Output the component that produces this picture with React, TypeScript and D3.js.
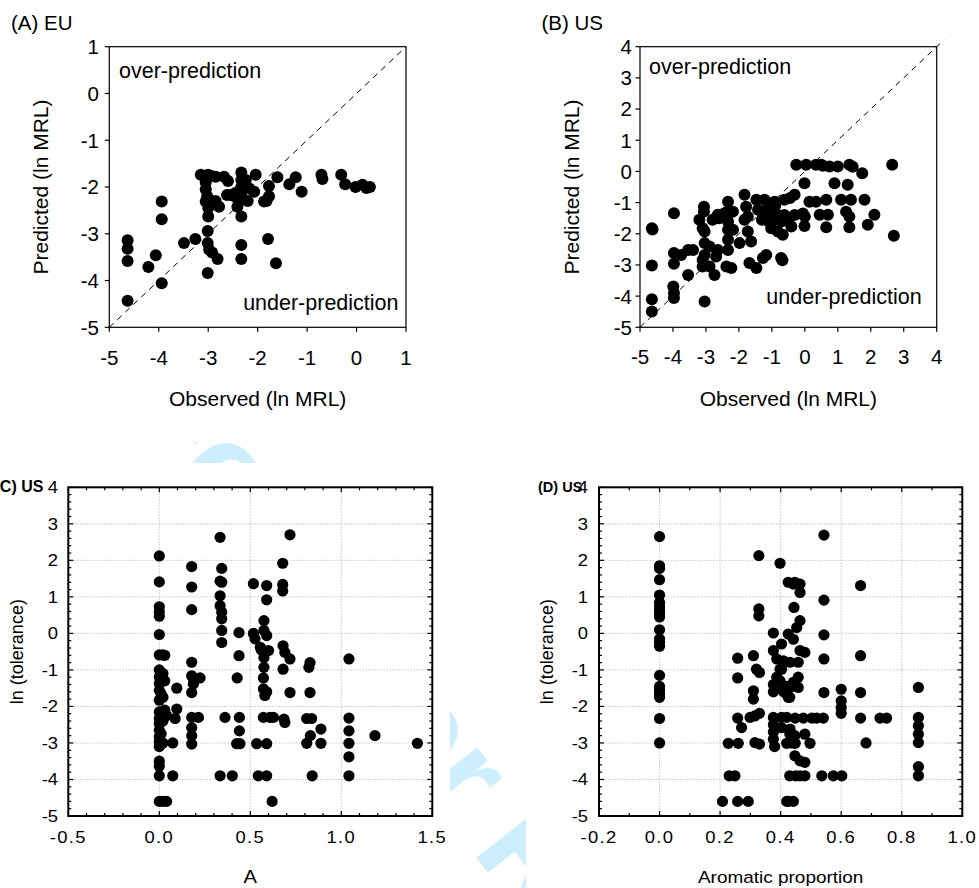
import React from "react";
import * as d3 from "d3";

const FONT = "'Liberation Sans', Arial, Helvetica, sans-serif";
type Pt = [number, number];

// ---------------- Data ----------------
// (A) EU: [observed ln MRL, predicted ln MRL]
const euPoints: Pt[] = [
  [-4.63, -4.43], [-4.63, -3.14], [-4.63, -3.32], [-4.63, -3.58],
  [-4.21, -3.71], [-4.06, -3.46], [-3.94, -2.31], [-3.94, -2.69], [-3.94, -4.06],
  [-3.49, -3.2], [-3.26, -3.11],
  [-3.01, -2.94], [-3.01, -3.2], [-2.98, -3.34], [-2.92, -3.4], [-2.81, -3.54], [-3.01, -3.84],
  [-2.33, -3.24], [-2.33, -3.54], [-1.79, -3.11], [-1.63, -3.63],
  [-3.15, -1.74], [-3.0, -1.74], [-2.95, -1.76], [-2.85, -1.78], [-2.68, -1.78], [-2.6, -1.87],
  [-3.05, -1.9], [-3.05, -2.05], [-3.02, -2.2], [-3.05, -2.31], [-3.0, -2.45], [-3.0, -2.63], [-2.95, -2.3],
  [-2.85, -2.3], [-2.78, -2.42], [-2.62, -2.17], [-2.54, -2.17], [-2.47, -2.2],
  [-2.45, -2.13], [-2.41, -2.42], [-2.38, -2.3],
  [-2.33, -1.69], [-2.33, -1.85], [-2.33, -2.0], [-2.33, -2.2], [-2.33, -2.63],
  [-2.24, -1.85], [-2.17, -2.03], [-2.07, -2.1], [-2.04, -1.74], [-2.2, -2.3],
  [-1.87, -2.31], [-1.77, -2.2], [-1.77, -1.98], [-1.82, -2.3],
  [-1.6, -1.79], [-1.36, -1.94], [-1.23, -1.79], [-1.11, -2.1],
  [-0.71, -1.74], [-0.69, -1.83], [-0.31, -1.74], [-0.23, -1.94], [-0.02, -2.0], [0.12, -1.95], [0.27, -2.0], [0.2, -2.02],
];

// (B) US: [observed ln MRL, predicted ln MRL]
const usPoints: Pt[] = [
  [-4.64, -4.49], [-4.64, -4.1], [-4.64, -3.02], [-4.64, -1.82], [-4.62, -1.86],
  [-3.97, -1.34], [-3.97, -2.62], [-3.97, -2.96], [-3.99, -3.69], [-3.97, -3.9], [-3.97, -4.06],
  [-3.75, -2.68], [-3.54, -2.52], [-3.39, -2.52], [-3.54, -3.32], [-3.04, -4.17],
  [-3.06, -1.13], [-3.06, -1.29], [-3.2, -1.55], [-3.1, -1.82], [-3.04, -1.93],
  [-3.04, -2.3], [-2.89, -2.41], [-3.04, -2.68], [-3.1, -2.84], [-3.1, -3.05], [-2.89, -3.05],
  [-2.74, -3.32], [-2.64, -2.52], [-2.69, -2.73], [-2.64, -1.39], [-2.8, -1.55],
  [-2.33, -0.97], [-2.35, -1.29], [-2.18, -1.29], [-2.33, -1.61], [-2.33, -1.87], [-2.18, -1.87], [-2.33, -2.19], [-2.33, -2.52],
  [-2.38, -3.05], [-2.23, -3.1], [-1.98, -2.3],
  [-1.83, -0.75], [-1.78, -1.13], [-1.73, -1.45], [-1.83, -1.55], [-1.73, -1.93], [-1.63, -2.25],
  [-1.68, -2.94], [-1.47, -3.1], [-1.27, -2.78], [-1.17, -2.68], [-0.72, -2.78], [-0.68, -2.85],
  [-1.47, -0.91], [-1.22, -0.91], [-0.92, -0.97], [-0.62, -0.91], [-0.31, -0.75], [-0.45, -0.85],
  [-1.42, -1.23], [-1.22, -1.3], [-1.02, -1.4], [-0.82, -1.4], [-0.62, -1.4], [-0.31, -1.4], [-0.06, -1.35],
  [-1.3, -1.55], [-1.1, -1.6], [-0.9, -1.55], [-0.7, -1.6], [-0.5, -1.5],
  [-1.02, -1.82], [-0.82, -1.93], [-0.67, -2.03], [-0.41, -1.77], [-0.01, -1.75], [-0.9, -1.1], [-1.1, -1.05],
  [-0.26, 0.21], [0.04, 0.21], [0.34, 0.21], [0.5, 0.21], [0.55, 0.18], [0.75, 0.16], [1.0, 0.16], [1.35, 0.21], [1.45, 0.15],
  [-0.01, -0.38], [0.14, -0.97], [0.34, -0.97], [0.65, -0.91], [0.45, -1.39], [0.7, -1.39], [0.65, -1.79],
  [0.9, -0.38], [1.3, -0.43], [1.1, -0.91], [1.4, -0.91], [1.81, -0.91], [1.25, -1.29], [1.35, -1.45], [1.35, -1.79],
  [1.74, -0.06], [1.91, -1.71], [2.11, -1.39], [2.65, 0.21], [2.7, -2.06], [0.0, -1.45], [-2.6, -1.5], [-2.45, -1.35],
];

// (C) US: [A, ln tolerance]
const aPoints: Pt[] = [
  [0, 2.12], [0, 1.41], [0, 0.73], [0, 0.59], [0, 0.47], [0, -0.03], [0, -0.59], [0.02, -0.59], [0.03, -0.6],
  [0, -1.0], [0, -1.19], [0, -1.37], [0.02, -1.1], [0, -1.56], [0.01, -1.65], [0, -1.83], [0.02, -1.75],
  [0, -2.15], [0.03, -2.1], [0, -2.33], [0.02, -2.4], [0, -2.47], [0, -2.65], [0.01, -2.75], [0, -2.83],
  [0, -2.97], [0.02, -3.0], [0, -3.1], [0, -3.5], [0, -3.64], [0, -3.9], [0, -4.6], [0.02, -4.6], [0.04, -4.6],
  [0.074, -3.0], [0.074, -3.9], [0.096, -1.5], [0.096, -2.07], [0.087, -2.33], [0.04, -2.25], [0.03, -1.3],
  [0.178, 1.83], [0.178, 1.27], [0.178, 0.65], [0.178, -0.79], [0.178, -1.16], [0.187, -1.39], [0.178, -1.62],
  [0.224, -1.22], [0.178, -2.3], [0.215, -2.3], [0.178, -2.58], [0.178, -2.8], [0.178, -3.03], [0.19, -1.3],
  [0.334, 2.63], [0.343, 1.78], [0.334, 1.43], [0.343, 1.4], [0.334, 1.03], [0.334, 0.76], [0.343, 0.58],
  [0.343, 0.4], [0.343, 0.08], [0.343, -0.25], [0.334, -3.9], [0.401, -3.9], [0.361, -2.3],
  [0.438, 0.02], [0.438, -0.61], [0.428, -1.22], [0.44, -2.3], [0.44, -2.67], [0.425, -3.02], [0.443, -3.02],
  [0.517, 1.36], [0.59, 1.31], [0.59, 0.92], [0.517, 0.0], [0.526, -0.15], [0.575, 0.35], [0.575, 0.08],
  [0.59, -0.06], [0.555, -0.38], [0.6, -0.47], [0.575, -0.66], [0.575, -0.93], [0.572, -1.22], [0.572, -1.52],
  [0.58, -1.7], [0.59, -1.6], [0.572, -2.3], [0.608, -2.3], [0.627, -2.3], [0.535, -3.02], [0.59, -3.02],
  [0.544, -3.9], [0.59, -3.9], [0.62, -4.6], [0.56, -0.45],
  [0.678, 1.92], [0.678, 1.34], [0.678, 1.16], [0.718, 2.7], [0.68, -0.34], [0.69, -0.52], [0.718, -0.7],
  [0.68, -0.98], [0.718, -1.62], [0.685, -2.35], [0.69, -2.44],
  [0.828, -0.8], [0.822, -0.93], [0.828, -1.62], [0.81, -2.33], [0.837, -2.33], [0.888, -2.62], [0.83, -2.8],
  [0.81, -3.01], [0.888, -3.01], [0.84, -3.9],
  [1.042, -0.7], [1.042, -2.32], [1.042, -2.67], [1.042, -3.01], [1.042, -3.38], [1.042, -3.9], [1.185, -2.8], [1.418, -3.01],
];

// (D) US: [aromatic proportion, ln tolerance]
const aromaticPoints: Pt[] = [
  [0, 2.65], [0, 1.85], [0, 1.78], [0, 1.47], [0, 1.05], [0, 0.85], [0, 0.75], [0, 0.65], [0, 0.55], [0, 0.45],
  [0, 0.1], [0, -0.15], [0, -0.25], [0, -0.35], [0, -1.15], [0, -1.45], [0, -1.55], [0, -1.65], [0, -1.75], [0, -2.33], [0, -3.0],
  [0.208, -4.6], [0.23, -3.9], [0.249, -3.9], [0.227, -3.01], [0.26, -3.01], [0.258, -0.68], [0.258, -1.22],
  [0.258, -2.32], [0.271, -2.58], [0.258, -4.6], [0.293, -4.6], [0.31, -0.61], [0.32, -0.98], [0.33, -1.07],
  [0.31, -1.57], [0.31, -1.8], [0.299, -2.3], [0.315, -2.26], [0.33, -2.19], [0.315, -2.99], [0.33, -3.03],
  [0.328, 2.13], [0.328, 0.67], [0.328, 0.48],
  [0.398, 1.92], [0.376, 0.01], [0.376, -0.47], [0.387, -0.7], [0.398, -0.98], [0.398, -1.3], [0.376, -1.4],
  [0.376, -1.6], [0.387, -1.2], [0.42, -1.45], [0.43, -1.75], [0.41, -1.6], [0.376, -2.3], [0.376, -2.5],
  [0.376, -2.7], [0.376, -2.9], [0.38, -3.1], [0.403, -2.3], [0.403, -2.58], [0.42, -2.3], [0.43, -2.75],
  [0.436, -3.0], [0.425, 1.4], [0.442, 1.35], [0.447, 1.4], [0.464, 1.35], [0.464, 1.12], [0.444, 0.71],
  [0.425, -0.02], [0.442, -0.16], [0.453, 0.16], [0.464, 0.35], [0.403, -0.29], [0.464, -0.47], [0.48, -0.52],
  [0.458, -0.79], [0.431, -0.79], [0.409, -0.75], [0.403, -0.98], [0.458, -1.2], [0.442, -1.34], [0.458, -1.48],
  [0.431, -1.48], [0.409, -1.52], [0.425, -1.75], [0.43, -3.9], [0.45, -3.9], [0.425, -4.6], [0.442, -4.6], [0.42, -4.6],
  [0.448, -2.32], [0.475, -2.32], [0.503, -2.32], [0.519, -2.32], [0.541, -2.32],
  [0.431, -2.62], [0.447, -2.8], [0.48, -2.76], [0.497, -3.01], [0.42, -3.01], [0.448, -3.01], [0.447, -3.35],
  [0.464, -3.49], [0.48, -3.53], [0.464, -3.9], [0.48, -3.9], [0.536, -3.9], [0.574, -3.9], [0.602, -3.9],
  [0.543, 2.69], [0.543, 0.91], [0.543, -0.04], [0.543, -0.7], [0.543, -1.62], [0.6, -1.53], [0.6, -1.85],
  [0.6, -2.03], [0.6, -2.19], [0.664, 1.31], [0.664, -0.61], [0.664, -1.62], [0.664, -2.32], [0.682, -3.0],
  [0.728, -2.32], [0.75, -2.32], [0.855, -1.48], [0.855, -2.3], [0.855, -2.53], [0.855, -2.76], [0.855, -2.99],
  [0.855, -3.65], [0.855, -3.9],
];

const mrlTicksEU = [-5, -4, -3, -2, -1, 0, 1];
const mrlTicksUS = [-5, -4, -3, -2, -1, 0, 1, 2, 3, 4];
const tolTicks = [-5, -4, -3, -2, -1, 0, 1, 2, 3, 4];
const aTicks = [-0.5, 0.0, 0.5, 1.0, 1.5];
const aromTicks = [-0.2, 0.0, 0.2, 0.4, 0.6, 0.8, 1.0];
const diagEU = [-5, 1];
const diagUS = [-5, 4.22];

type Box = { l: number; r: number; t: number; b: number };

function MrlPanel(props: {
  box: Box; points: Pt[]; xTicks: number[]; yTicks: number[]; diag: number[];
  title: string; titleX: number; over: [number, number]; under: [number, number];
  yLabelX: number; yTickX: number; xTickY: number; xLabelY: number;
}) {
  const { box, points, xTicks, yTicks, diag } = props;
  const x = d3.scaleLinear().domain(d3.extent(xTicks) as [number, number]).range([box.l, box.r]);
  const y = d3.scaleLinear().domain(d3.extent(yTicks) as [number, number]).range([box.b, box.t]);
  const cx = (box.l + box.r) / 2;
  const cy = (box.t + box.b) / 2;
  return (
    <g fontFamily={FONT} fill="#000">
      <text x={props.titleX} y={30} fontSize={20.5}>{props.title}</text>
      <line x1={x(diag[0])} y1={y(diag[0])} x2={x(diag[1])} y2={y(diag[1])}
        stroke="#000" strokeWidth={1} strokeDasharray="6,5" />
      {points.map(([a, b], i) => <circle key={i} cx={x(a)} cy={y(b)} r={6} fill="#000" />)}
      <rect x={box.l} y={box.t} width={box.r - box.l} height={box.b - box.t} fill="none" stroke="#000" strokeWidth={1.2} />
      {xTicks.map((t) => (
        <g key={"x" + t}>
          <line x1={x(t)} x2={x(t)} y1={box.b} y2={box.b + 4.5} stroke="#000" strokeWidth={1.2} />
          <text x={x(t)} y={props.xTickY} textAnchor="middle" fontSize={20.5}>{String(t)}</text>
        </g>
      ))}
      {yTicks.map((t) => (
        <g key={"y" + t}>
          <line x1={box.l - 4.5} x2={box.l} y1={y(t)} y2={y(t)} stroke="#000" strokeWidth={1.2} />
          <text x={props.yTickX} y={y(t)} dy="0.36em" textAnchor="end" fontSize={20.5}>{String(t)}</text>
        </g>
      ))}
      <text x={props.over[0]} y={props.over[1]} fontSize={21.5}>over-prediction</text>
      <text x={props.under[0]} y={props.under[1]} fontSize={21.5} textAnchor="end">under-prediction</text>
      <text x={cx} y={props.xLabelY} textAnchor="middle" fontSize={21}>Observed (ln MRL)</text>
      <text transform={`translate(${props.yLabelX},${cy}) rotate(-90)`} textAnchor="middle" fontSize={21}>Predicted (ln MRL)</text>
    </g>
  );
}

function TolPanel(props: {
  box: Box; points: Pt[]; xTicks: number[]; yTicks: number[];
  title: string; titleX: number; titleSize: number; xLabel: string; xLabelSize: number;
  yLabelX: number; yTickX: number;
}) {
  const { box, points, xTicks, yTicks } = props;
  const xd = d3.extent(xTicks) as [number, number];
  const yd = d3.extent(yTicks) as [number, number];
  const x = d3.scaleLinear().domain(xd).range([box.l, box.r]);
  const y = d3.scaleLinear().domain(yd).range([box.b, box.t]);
  const xMinor = d3.range(Math.round((xd[1] - xd[0]) / 0.1) + 1).map((i) => xd[0] + i * 0.1);
  const yMinor = d3.range(Math.round((yd[1] - yd[0]) / 0.2) + 1).map((i) => yd[0] + i * 0.2);
  const isMajor = (v: number, ticks: number[]) => ticks.some((t) => Math.abs(t - v) < 1e-6);
  const cx = (box.l + box.r) / 2;
  const cy = (box.t + box.b) / 2;
  const sx = 1.15;
  return (
    <g fontFamily={FONT} fill="#000">
      {xTicks.slice(1, -1).map((t) => (
        <line key={"gx" + t} x1={x(t)} x2={x(t)} y1={box.t} y2={box.b} stroke="#bdbdbd" strokeWidth={0.9} strokeDasharray="1.5,1.5" />
      ))}
      {yTicks.slice(1, -1).map((t) => (
        <line key={"gy" + t} x1={box.l} x2={box.r} y1={y(t)} y2={y(t)} stroke="#bdbdbd" strokeWidth={0.9} strokeDasharray="1.5,1.5" />
      ))}
      {points.map(([a, b], i) => <circle key={i} cx={x(a)} cy={y(b)} r={5.6} fill="#000" />)}
      {xMinor.map((v, i) => {
        const len = isMajor(v, xTicks) ? 5 : 3;
        return (
          <g key={"mx" + i}>
            <line x1={x(v)} x2={x(v)} y1={box.b} y2={box.b - len} stroke="#000" strokeWidth={1.2} />
            <line x1={x(v)} x2={x(v)} y1={box.t} y2={box.t + len} stroke="#000" strokeWidth={1.2} />
          </g>
        );
      })}
      {yMinor.map((v, i) => {
        const len = isMajor(v, yTicks) ? 5 : 3;
        return (
          <g key={"my" + i}>
            <line x1={box.l} x2={box.l + len} y1={y(v)} y2={y(v)} stroke="#000" strokeWidth={1.2} />
            <line x1={box.r} x2={box.r - len} y1={y(v)} y2={y(v)} stroke="#000" strokeWidth={1.2} />
          </g>
        );
      })}
      <rect x={box.l} y={box.t} width={box.r - box.l} height={box.b - box.t} fill="none" stroke="#000" strokeWidth={2} />
      {xTicks.map((t) => (
        <text key={"xl" + t} transform={`translate(${x(t)},843) scale(${sx},1)`} textAnchor="middle" fontSize={16} letterSpacing={1.2}>
          {t.toFixed(1)}
        </text>
      ))}
      {yTicks.map((t) => (
        <text key={"yl" + t} transform={`translate(${props.yTickX},${y(t)}) scale(${sx},1)`} dy="0.36em" textAnchor="end" fontSize={16}>
          {String(t)}
        </text>
      ))}
      <text x={props.titleX} y={491.5} fontSize={props.titleSize} fontWeight="bold">{props.title}</text>
      <text transform={`translate(${cx},883) scale(${sx},1)`} textAnchor="middle" fontSize={props.xLabelSize}>{props.xLabel}</text>
      <text transform={`translate(${props.yLabelX},${cy}) rotate(-90)`} textAnchor="middle" fontSize={18}>ln (tolerance)</text>
    </g>
  );
}

export default function App() {
  return (
    <div style={{ position: "absolute", left: 0, top: 0 }}>
      <svg width={979} height={888} viewBox="0 0 979 888" style={{ display: "block", background: "#fff" }}>
        {/* watermark behind the panels */}
        <text transform="translate(124,407) rotate(52)" fontFamily={FONT} fontWeight="bold" fontSize={130} fill="#cdeefc">
          For Peer Review
        </text>
        <rect x={0} y={0} width={979} height={442} fill="#fff" />
        <rect x={0} y={463} width={450} height={425} fill="#fff" />
        <rect x={526} y={463} width={453} height={425} fill="#fff" />

        <MrlPanel box={{ l: 109.3, r: 406, t: 46.7, b: 327.3 }} points={euPoints} xTicks={mrlTicksEU} yTicks={mrlTicksEU}
          diag={diagEU} title="(A) EU" titleX={11} over={[119, 78]} under={[398.5, 310]}
          yLabelX={48} yTickX={99} xTickY={365} xLabelY={406} />
        <MrlPanel box={{ l: 640, r: 936.7, t: 46.7, b: 327.3 }} points={usPoints} xTicks={mrlTicksUS} yTicks={mrlTicksUS}
          diag={diagUS} title="(B) US" titleX={541.5} over={[649, 74]} under={[921.7, 304]}
          yLabelX={578.5} yTickX={632} xTickY={364} xLabelY={406} />

        <TolPanel box={{ l: 68.3, r: 432.3, t: 487.3, b: 816 }} points={aPoints} xTicks={aTicks} yTicks={tolTicks}
          title="(C) US" titleX={-5.5} titleSize={16} xLabel="A" xLabelSize={17.5} yLabelX={23} yTickX={58} />
        <TolPanel box={{ l: 599, r: 962.3, t: 487.3, b: 816 }} points={aromaticPoints} xTicks={aromTicks} yTicks={tolTicks}
          title="(D) US" titleX={538} titleSize={14.5} xLabel="Aromatic proportion" xLabelSize={16.5} yLabelX={553} yTickX={588} />
      </svg>
    </div>
  );
}
